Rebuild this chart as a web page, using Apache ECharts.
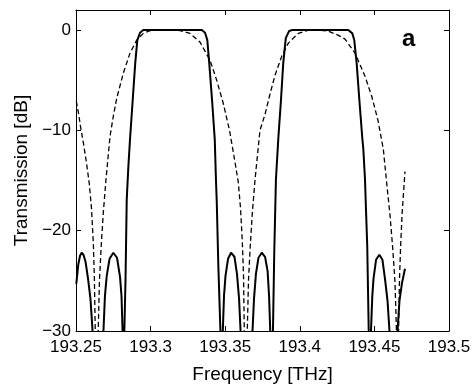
<!DOCTYPE html>
<html>
<head>
<meta charset="utf-8">
<script src="https://cdn.jsdelivr.net/npm/echarts@6/dist/echarts.min.js"></script>
<style>
  html, body { margin: 0; padding: 0; background: #fff; }
  #main { width: 474px; height: 389px; }
</style>
</head>
<body>
<div id="main"></div>
<script>
// solid curve (flat-top filter) - frequency [THz] / transmission [dB]
var solidFreq = [
  193.2502, 193.2515, 193.2527, 193.2538, 193.2550, 193.2564, 193.2580, 193.2597, 193.2611, 193.2615,
  193.2680, 193.2684, 193.2694, 193.2706, 193.2725, 193.2750, 193.2775, 193.2795, 193.2805, 193.2812, 193.2817,
  193.2824, 193.2832, 193.2840, 193.2851, 193.2862, 193.2880, 193.2897, 193.2911, 193.2929, 193.2951,
  193.3343, 193.3365, 193.3380, 193.3393, 193.3412, 193.3430, 193.3438, 193.3443, 193.3454, 193.3468, 193.3474,
  193.3480, 193.3484, 193.3492, 193.3502, 193.3519, 193.3539, 193.3562, 193.3579, 193.3593, 193.3603, 193.3607,
  193.3678, 193.3683, 193.3693, 193.3706, 193.3723, 193.3745, 193.3767, 193.3784, 193.3794, 193.3802, 193.3807,
  193.3815, 193.3820, 193.3829, 193.3840, 193.3856, 193.3874, 193.3889, 193.3906, 193.3928, 193.3950,
  193.4325, 193.4352, 193.4365, 193.4381, 193.4399, 193.4419, 193.4426, 193.4437, 193.4445, 193.4452, 193.4462, 193.4468,
  193.4473, 193.4477, 193.4486, 193.4494, 193.4511, 193.4533, 193.4554, 193.4571, 193.4588, 193.4601, 193.4606,
  193.4650, 193.4655, 193.4668, 193.4685, 193.4705
];
var solidDb = [
  -25.3, -23.4, -22.5, -22.2, -22.4, -23.1, -24.7, -26.8, -30, -45,
  -45, -30, -26.5, -24.5, -22.8, -22.2, -22.7, -24.6, -26.5, -30, -45,
  -30, -24.8, -16.9, -13.6, -10.9, -7.0, -3.3, -1.0, -0.27, 0,
  0, -0.27, -1.0, -3.3, -7.0, -10.9, -14.9, -16.9, -23.5, -30, -45,
  -45, -30, -26.5, -24.5, -22.8, -22.2, -22.6, -24.3, -26.8, -30, -45,
  -45, -30, -26.8, -24.3, -22.7, -22.2, -22.6, -24.0, -26.5, -30, -45,
  -45, -30, -22, -14.9, -10.8, -6.95, -3.3, -0.8, -0.1, 0,
  0, -0.33, -1.0, -3.3, -6.95, -10.8, -11.9, -14.9, -18.5, -21.5, -30, -45,
  -45, -30, -26.5, -24.8, -22.9, -22.4, -22.9, -24.8, -27, -30, -45,
  -45, -30, -27, -25.2, -23.8
];

// dashed curve (gaussian-like filter)
var dashFreq = [
  193.2502, 193.2517, 193.2530, 193.2550, 193.2570, 193.2589, 193.2604, 193.2616, 193.2623, 193.2629, 193.2634,
  193.2644, 193.2649, 193.2657, 193.2669, 193.2683, 193.2701, 193.2728, 193.2750, 193.2773, 193.2817, 193.2862, 193.2907,
  193.2951, 193.2996, 193.3063, 193.3130, 193.3197, 193.3264, 193.3331, 193.3398, 193.3443, 193.3487, 193.3529,
  193.3566, 193.3588, 193.3603, 193.3615, 193.3623, 193.3628, 193.3633,
  193.3643, 193.3648, 193.3656, 193.3668, 193.3682, 193.3700, 193.3733, 193.3767, 193.3800, 193.3834, 193.3879,
  193.3923, 193.3990, 193.4055, 193.4122, 193.4189, 193.4256, 193.4303, 193.4370, 193.4437, 193.4482, 193.4524,
  193.4560, 193.4582, 193.4605, 193.4623, 193.4638, 193.4648, 193.4653,
  193.4657, 193.4662, 193.4668, 193.4675, 193.4686, 193.4705
];
var dashDb = [
  -7.1, -8.3, -9.6, -11.3, -13.2, -15.3, -17.8, -21.2, -24.6, -30, -45,
  -45, -30, -25, -21.5, -18.2, -14.9, -10.6, -8.6, -6.8, -4.3, -2.3, -1.0,
  -0.33, -0.05, 0, 0, -0.05, -0.33, -1.2, -3.0, -5.0, -7.3, -10.0,
  -13.2, -15.2, -17.8, -21.2, -24.6, -30, -45,
  -45, -30, -25, -21.5, -18.2, -14.9, -10, -8.4, -6.4, -4.5, -2.6,
  -1.3, -0.33, -0.03, 0, -0.1, -0.5, -0.9, -2.3, -4.6, -6.6, -9.0,
  -11.9, -15.2, -18.5, -21.8, -25.1, -30, -45,
  -45, -30, -25, -21.8, -18.2, -14.1
];

// tick values
var xTicks = [193.25, 193.3, 193.35, 193.4, 193.45, 193.5];
var yTicks = [-30, -20, -10, 0];

function pairs(xs, ys) {
  var out = [];
  for (var i = 0; i < xs.length; i++) out.push([xs[i], ys[i]]);
  return out;
}

var font = 'Liberation Sans';
var myChart = echarts.init(document.getElementById('main'));

function xAxisCfg(pos, labels) {
  return {
    type: 'value',
    position: pos,
    min: xTicks[0],
    max: xTicks[xTicks.length - 1],
    interval: 0.05,
    axisLine: { show: true, onZero: false, lineStyle: { color: '#000', width: 1 } },
    axisTick: { show: true, inside: true, length: 5, lineStyle: { color: '#000', width: 1 } },
    axisLabel: { show: labels, color: '#000', fontSize: 17, fontFamily: font, margin: 8 },
    splitLine: { show: false },
    name: labels ? 'Frequency [THz]' : '',
    nameLocation: 'middle',
    nameGap: 34,
    nameTextStyle: { color: '#000', fontSize: 19, fontFamily: font }
  };
}

function yAxisCfg(pos, labels) {
  return {
    type: 'value',
    position: pos,
    min: yTicks[0],
    max: 2,
    interval: 10,
    axisLine: { show: true, onZero: false, lineStyle: { color: '#000', width: 1 } },
    axisTick: { show: true, inside: true, length: 5, lineStyle: { color: '#000', width: 1 } },
    axisLabel: {
      show: labels, color: '#000', fontSize: 17, fontFamily: font, margin: 5,
      showMaxLabel: false,
      formatter: function (v) {
        return yTicks.indexOf(v) >= 0 ? String(v).replace('-', '\u2212') : '';
      }
    },
    splitLine: { show: false },
    name: labels ? 'Transmission [dB]' : '',
    nameLocation: 'middle',
    nameGap: 45,
    nameTextStyle: { color: '#000', fontSize: 19, fontFamily: font }
  };
}

var option = {
  backgroundColor: '#fff',
  animation: false,
  title: {
    text: 'a',
    left: 397,
    top: 22,
    textStyle: { color: '#000', fontSize: 24, fontWeight: 'bold', fontFamily: font }
  },
  grid: { left: 76, right: 25, top: 10, bottom: 57 },
  xAxis: [xAxisCfg('bottom', true), xAxisCfg('top', false)],
  yAxis: [yAxisCfg('left', true), yAxisCfg('right', false)],
  series: [
    {
      name: 'solid',
      type: 'line',
      symbol: 'none',
      clip: true,
      lineStyle: { color: '#000', width: 2 },
      data: pairs(solidFreq, solidDb)
    },
    {
      name: 'dashed',
      type: 'line',
      symbol: 'none',
      clip: true,
      lineStyle: { color: '#000', width: 1.3, type: [5, 3] },
      data: pairs(dashFreq, dashDb)
    }
  ]
};
myChart.setOption(option);
</script>
</body>
</html>
